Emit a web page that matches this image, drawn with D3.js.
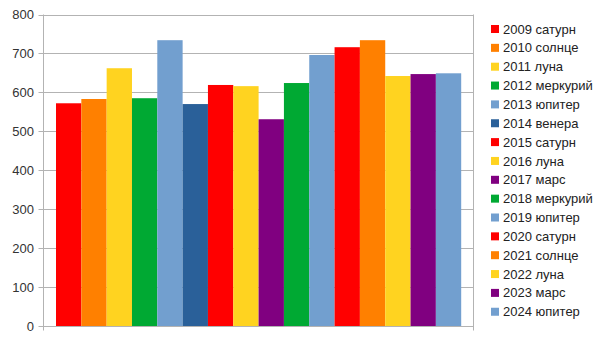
<!DOCTYPE html>
<html>
<head>
<meta charset="utf-8">
<script src="https://cdn.jsdelivr.net/npm/d3@7"></script>
<style>
  body { margin: 0; background: #fff; }
  text { font-family: "Liberation Sans", Arial, sans-serif; }
</style>
</head>
<body>
<svg id="chart"></svg>
<script>
// Series (one bar each)
const labels = ["2009 сатурн", "2010 солнце", "2011 луна", "2012 меркурий", "2013 юпитер",
  "2014 венера", "2015 сатурн", "2016 луна", "2017 марс", "2018 меркурий", "2019 юпитер",
  "2020 сатурн", "2021 солнце", "2022 луна", "2023 марс", "2024 юпитер"];
const values = [572, 583, 662, 585, 734, 570, 619, 616, 531, 624, 696, 716, 734, 642, 647, 649];
const colors = ["#ff0000", "#ff8000", "#ffd320", "#00a933", "#729fcf", "#2a6099", "#ff0000",
  "#ffd320", "#800080", "#00a933", "#729fcf", "#ff0000", "#ff8000", "#ffd320", "#800080", "#729fcf"];
const yTicks = [0, 100, 200, 300, 400, 500, 600, 700, 800];

const width = 606, height = 341;
const margin = {top: 14.5, bottom: 15, left: 43.5, right: 132.5};

const svg = d3.select("#chart")
  .attr("width", width)
  .attr("height", height);

const x0 = margin.left, x1 = width - margin.right;

const xScale = d3.scaleBand()
  .domain(labels)
  .range([x0 + 12.5, x1 - 12.3]);

const yScale = d3.scaleLinear()
  .domain([0, 800])
  .range([height - margin.bottom, margin.top]);

// Gridlines
svg.append("g")
  .selectAll("line")
  .data(yTicks)
  .enter().append("line")
  .attr("x1", x0 - 5)
  .attr("x2", x1)
  .attr("y1", d => Math.round(yScale(d)) + 0.5)
  .attr("y2", d => Math.round(yScale(d)) + 0.5)
  .attr("stroke", "#b3b3b3");

// Bars
svg.append("g")
  .selectAll("rect")
  .data(values)
  .enter().append("rect")
  .attr("x", (d, i) => xScale(labels[i]))
  .attr("width", xScale.bandwidth())
  .attr("y", d => yScale(d))
  .attr("height", d => yScale(0) - yScale(d))
  .attr("fill", (d, i) => colors[i]);

// Axis frame lines
const yBottom = Math.round(yScale(0)) + 0.5;
svg.append("line")
  .attr("x1", x0).attr("x2", x0)
  .attr("y1", yScale(800)).attr("y2", yBottom + 4)
  .attr("stroke", "#b3b3b3");
svg.append("line")
  .attr("x1", x1).attr("x2", x1)
  .attr("y1", yScale(800)).attr("y2", yBottom + 4)
  .attr("stroke", "#b3b3b3");

// Y tick labels
svg.append("g")
  .selectAll("text")
  .data(yTicks)
  .enter().append("text")
  .attr("x", 34)
  .attr("y", d => yScale(d))
  .attr("dy", "0.35em")
  .attr("text-anchor", "end")
  .style("font-size", "13px")
  .attr("fill", "#333")
  .text(d => d);

// Legend
const legend = svg.selectAll(".legend")
  .data(labels)
  .enter().append("g")
  .attr("class", "legend")
  .attr("transform", (d, i) => `translate(491,${29 + i * 18.85})`);

legend.append("rect")
  .attr("x", 0)
  .attr("y", -4)
  .attr("width", 8)
  .attr("height", 8)
  .attr("fill", (d, i) => colors[i]);

legend.append("text")
  .attr("x", 12)
  .attr("y", 0)
  .attr("dy", "0.35em")
  .style("font-size", "13px")
  .attr("fill", "#222")
  .text(d => d);
</script>
</body>
</html>
